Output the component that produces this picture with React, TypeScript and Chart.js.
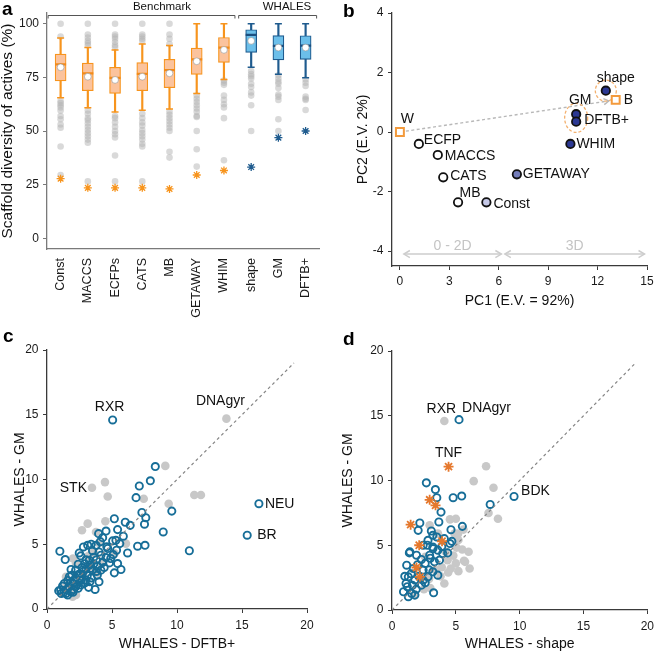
import React, { useEffect, useRef } from 'react';
import { Chart, registerables } from 'chart.js';

Chart.register(...registerables);

const FONT = "'Liberation Sans', Arial, Helvetica, sans-serif";
Chart.defaults.font.family = FONT;

// ---------------- Panel a : box plots ----------------
const categories = ['Const', 'MACCS', 'ECFPs', 'CATS', 'MB', 'GETAWAY', 'WHIM', 'shape', 'GM', 'DFTB+'];
const boxQ1 = [73.4, 68.8, 67.5, 68.8, 70.2, 76.4, 82.0, 86.6, 83.1, 83.4];
const boxQ3 = [85.8, 81.6, 79.7, 81.9, 83.4, 88.6, 93.6, 97.2, 94.5, 94.4];
const boxMedian = [81.1, 76.9, 74.8, 76.6, 78.4, 83.4, 88.9, 94.8, 89.7, 89.8];
const boxMean = [79.7, 75.3, 73.8, 75.3, 76.9, 82.5, 87.8, 92.0, 88.9, 88.9];
const whiskerLow = [65.5, 60.8, 58.9, 59.7, 60.3, 67.5, 74.0, 79.7, 76.4, 74.8];
const whiskerHigh = [93.3, 88.9, 87.8, 90.5, 89.8, 100, 100, 100, 100, 100];
const starValues = [27.8, 23.5, 23.5, 23.5, 23.0, 29.5, 31.6, 33.2, 46.9, 50.0];
const outliersConst = [100, 94, 64, 63, 62, 61, 59.5, 57, 55.5, 53, 51.5, 42.8, 29.5];
const outliersMACCS = [100, 95, 93.5, 92, 91, 90, 59.5, 58, 56, 55, 53.5, 52, 50.5, 49, 47.5, 46, 44.5, 26.5];
const outliersECFPs = [100, 95, 94, 93, 91.5, 90, 89, 57, 56, 54, 52, 50, 48.5, 47, 38.6, 26.5];
const outliersCATS = [100, 95, 94, 93, 92, 58, 56, 54, 52.5, 50.5, 49, 47.5, 46, 44, 42.8, 26.5];
const outliersMB = [100, 95, 93, 90.5, 59, 57.5, 56, 54.5, 53, 51.5, 50, 40.3, 37.6];
const outliersGETAWAY = [66.5, 65, 63.5, 62, 60.5, 59, 57, 56.5, 50, 41.5, 33.4];
const outliersWHIM = [73.5, 72.5, 71.5, 66.5, 64.5, 62.5, 61, 56, 36.4];
const outliersShape = [78, 76.5, 75.5, 74.5, 72, 70.5, 68, 66.5, 62, 50];
const outliersGM = [76, 74.5, 73, 72, 70, 67, 66, 64.5, 55.5, 50];
const outliersDFTB = [74, 72.5, 71, 66, 65, 64.5, 59.8];
const outliersByCategory = [
  outliersConst, outliersMACCS, outliersECFPs, outliersCATS, outliersMB,
  outliersGETAWAY, outliersWHIM, outliersShape, outliersGM, outliersDFTB,
];
const yTicksA = [0, 25, 50, 75, 100];
const benchmarkCount = 7; // first 7 categories are the benchmark group

// ---------------- Panel b : PCA ----------------
const pcaNames = ['ECFP', 'MACCS', 'CATS', 'MB', 'Const', 'GETAWAY', 'WHIM', 'GM', 'DFTB+', 'shape'];
const pc1 = [1.15, 2.3, 2.63, 3.53, 5.25, 7.1, 10.35, 10.7, 10.7, 12.5];
const pc2 = [-0.4, -0.77, -1.52, -2.36, -2.36, -1.42, -0.4, 0.6, 0.35, 1.39];
const centroidNames = ['W', 'B'];
const centroidPC1 = [0, 13.1];
const centroidPC2 = [0, 1.08];
const rangeLabels = ['0 - 2D', '3D'];
const rangeFrom = [0.24, 6.37];
const rangeTo = [6.16, 14.85];
const rangeY = -4.1;
const xTicksB = [0, 3, 6, 9, 12, 15];
const yTicksB = [-4, -2, 0, 2, 4];

// ---------------- Panel c ----------------
const cBlue: [number, number][] = [
  [5.05, 14.6], [16.3, 8.13], [15.4, 5.7],
  [8.33, 11.0], [7.95, 9.9], [7.1, 9.5], [6.85, 8.6], [9.6, 7.56], [7.3, 7.45], [7.6, 7.05], [7.5, 6.55],
  [8.94, 5.95], [10.95, 4.5], [7.54, 4.92], [6.97, 4.85], [5.18, 6.97], [6.02, 6.7], [5.43, 6.13], [6.4, 6.46],
  [5.87, 5.62], [5.05, 5.26], [5.3, 5.3], [5.6, 5.05], [6.2, 4.33], [5.35, 4.54], [4.54, 6.02], [3.97, 5.82],
  [4.28, 5.51], [3.77, 4.92], [3.5, 4.49], [3.13, 4.92], [2.8, 4.79], [2.48, 4.33], [0.99, 4.46], [1.4, 3.82],
  [4.15, 4.15], [4.67, 4.67], [4.54, 3.97], [4.8, 3.56], [5.43, 3.51], [5.69, 3.05], [5.18, 2.79], [4.15, 3.0],
  [3.87, 2.62], [4.0, 2.1], [3.7, 1.51], [3.2, 1.67], [3.0, 2.23], [2.36, 2.62], [1.85, 3.05], [1.72, 2.49],
  [1.33, 1.97], [1.05, 1.46], [1.46, 1.2], [1.85, 1.33], [1.59, 1.08], [2.2, 1.72], [2.6, 1.85], [2.7, 3.2],
  [3.25, 3.77], [3.6, 3.5], [3.36, 3.13], [2.9, 3.5], [2.4, 3.46], [2.1, 2.23], [1.2, 1.77], [0.9, 1.4],
  [2.0, 2.0], [2.2, 2.4], [2.5, 2.7], [2.8, 2.9], [3.0, 3.1], [3.3, 3.4], [3.5, 3.0], [3.8, 3.8], [4.0, 4.4],
  [4.3, 3.6], [2.3, 1.9], [1.7, 1.7], [1.5, 1.5], [1.9, 2.6], [2.6, 2.2], [3.1, 2.6], [3.4, 2.4], [2.9, 2.0],
  [1.3, 1.3], [1.1, 1.2], [2.05, 1.5], [2.7, 2.5], [3.9, 3.3], [4.4, 3.2], [4.9, 3.9], [3.6, 4.0], [3.0, 3.8],
  [2.2, 3.0], [1.6, 2.2], [4.1, 5.2], [4.6, 4.8], [5.1, 4.2], [3.4, 5.0], [2.6, 4.1], [2.0, 1.3], [2.4, 1.6],
  [1.8, 2.0], [3.3, 2.1], [3.8, 2.9],
];
const cGray: [number, number][] = [
  [13.8, 14.7], [3.46, 9.36], [9.1, 11.05], [4.46, 9.8], [4.67, 8.69], [7.44, 8.51], [9.36, 8.13], [11.33, 8.8],
  [11.84, 8.8], [3.13, 6.59], [2.69, 6.08], [4.49, 6.77], [3.77, 5.95], [6.07, 5.05], [2.23, 3.51], [1.46, 2.49],
  [2.23, 1.08], [1.97, 0.95], [3.3, 3.2], [2.8, 2.6], [1.8, 1.6], [4.2, 3.5], [5.2, 4.3], [3.6, 4.4], [2.5, 2.0],
  [1.5, 1.9], [3.9, 2.8], [4.0, 5.1], [2.0, 3.9], [3.2, 4.1],
];
const cLabelText = ['RXR', 'NEU', 'BR', 'DNAgyr', 'STK'];

// ---------------- Panel d ----------------
const dBlue: [number, number][] = [
  [5.25, 14.7], [9.56, 8.77], [2.69, 9.82], [3.4, 9.3], [3.51, 8.67], [4.79, 8.67], [5.46, 8.8], [7.69, 8.15],
  [3.84, 7.56], [3.67, 6.8], [2.18, 6.72], [2.05, 6.15], [5.51, 6.46], [4.62, 6.2], [3.08, 6.1], [3.2, 5.77],
  [3.51, 5.64], [4.1, 5.51], [4.54, 5.13], [4.69, 5.3], [2.82, 5.38], [2.44, 5.0], [1.36, 4.41], [3.2, 4.87],
  [3.59, 4.62], [3.97, 4.36], [4.36, 4.41], [1.92, 4.23], [2.3, 3.9], [2.95, 4.23], [3.33, 3.72], [3.72, 3.85],
  [1.15, 3.46], [1.67, 3.21], [2.44, 3.08], [3.2, 2.95], [3.59, 2.69], [1.28, 2.56], [1.79, 2.31], [2.82, 2.56],
  [2.31, 1.92], [1.1, 2.05], [0.9, 1.41], [1.54, 1.28], [3.26, 1.33], [1.28, 1.03], [1.79, 1.15], [2.44, 2.3],
  [1.4, 4.49], [2.77, 5.0], [3.21, 4.74], [1.5, 2.8], [2.0, 3.5], [2.6, 3.6], [1.2, 1.8], [2.1, 2.6], [1.6, 1.9],
  [2.9, 3.1], [3.0, 4.0], [1.0, 2.6], [1.9, 1.6], [2.6, 2.1], [3.9, 4.9],
];
const dStars: [number, number][] = [
  [4.43, 11.07], [2.95, 8.51], [3.41, 8.08], [1.46, 6.59], [2.13, 5.0], [3.92, 5.31], [1.92, 3.28], [2.18, 2.56],
];
const dGray: [number, number][] = [
  [4.1, 14.6], [7.37, 11.1], [6.4, 9.95], [7.95, 9.44], [7.56, 7.49], [8.3, 7.05], [5.0, 7.05], [5.6, 6.21],
  [5.5, 4.67], [4.35, 3.85], [5.64, 3.8], [6.08, 3.21], [4.1, 2.05], [5.0, 3.6], [4.6, 3.2], [2.95, 6.54],
  [3.6, 5.9], [4.8, 4.2], [5.2, 3.0], [3.8, 2.6], [4.4, 2.9], [2.6, 4.1], [3.4, 3.1], [2.9, 2.4], [3.0, 1.7],
  [2.5, 1.6], [1.8, 1.2], [5.2, 5.4], [4.9, 5.9], [6.0, 4.5], [3.9, 3.3], [4.2, 4.5], [4.54, 7.0], [5.18, 5.9],
  [5.05, 4.82], [5.72, 3.72],
];
const dLabelText = ['DNAgyr', 'BDK', 'RXR', 'TNF'];
const diagonal = [0, 19];
const ticks20 = [0, 5, 10, 15, 20];

// ---------------- styles ----------------
const ORANGE = '#f7941d';
const ORANGE_FILL = '#fbc39d';
const ORANGE_MED = '#f28a1a';
const BLUE_STROKE = '#1f5b8e';
const BLUE_FILL = '#6cbfea';
const BLUE_MED = '#1b4f80';
const RING = '#176e98';
const STAR_D = '#e5782d';
const GRAY_DOT = '#c8c8c8';
const AXIS = '#3a3a3a';
const AXIS_A = '#7a7a7a';

const toXY = (pts: [number, number][]) => pts.map(([x, y]) => ({ x, y }));
const fixW = (w: number) => (s: any) => { s.width = w; };
const fixH = (h: number) => (s: any) => { s.height = h; };
const setTicks = (vals: number[]) => (s: any) => { s.ticks = vals.map((v) => ({ value: v })); };

function letterPlugin(letter: string, x: number, y: number) {
  return {
    id: 'letter_' + letter,
    afterDraw(chart: any) {
      const ctx = chart.ctx;
      ctx.save();
      ctx.font = `bold 19px ${FONT}`;
      ctx.fillStyle = '#000';
      ctx.textBaseline = 'alphabetic';
      ctx.textAlign = 'left';
      ctx.fillText(letter, x, y);
      ctx.restore();
    },
  };
}

function chevron(ctx: any, x: number, y: number, ux: number, uy: number, size: number) {
  const px = -uy, py = ux;
  ctx.beginPath();
  ctx.moveTo(x - ux * size + px * size * 0.6, y - uy * size + py * size * 0.6);
  ctx.lineTo(x, y);
  ctx.lineTo(x - ux * size - px * size * 0.6, y - uy * size - py * size * 0.6);
  ctx.stroke();
}

const baseOptions = {
  responsive: false,
  animation: false,
  devicePixelRatio: 1,
  events: [],
  plugins: { legend: { display: false }, tooltip: { enabled: false } },
};

// ---------------- configs ----------------
function configA(): any {
  const isW = (i: number) => i >= benchmarkCount;
  const stroke = categories.map((_, i) => (isW(i) ? BLUE_STROKE : ORANGE));
  const fill = categories.map((_, i) => (isW(i) ? BLUE_FILL : ORANGE_FILL));
  const med = categories.map((_, i) => (isW(i) ? BLUE_MED : ORANGE_MED));
  const outlierData = categories.flatMap((c, i) => outliersByCategory[i].map((v) => ({ x: c, y: v })));
  const pointSet = (data: any, extra: any) => ({ type: 'line', showLine: false, data, ...extra });

  const brackets = {
    id: 'brackets',
    afterDraw(chart: any) {
      const { ctx, scales: { x } } = chart;
      ctx.save();
      ctx.strokeStyle = '#555';
      ctx.lineWidth = 1;
      const yb = 15.5;
      const groups = [
        { from: 0, to: benchmarkCount - 1, text: 'Benchmark', tx: 162 },
        { from: benchmarkCount, to: categories.length - 1, text: 'WHALES', tx: 287 },
      ];
      ctx.font = `11.5px ${FONT}`;
      ctx.fillStyle = '#111';
      ctx.textAlign = 'center';
      ctx.textBaseline = 'alphabetic';
      for (const g of groups) {
        const a = x.getPixelForValue(g.from) - 12.5;
        const b = x.getPixelForValue(g.to) + 11;
        ctx.beginPath();
        ctx.moveTo(a, yb + 3);
        ctx.lineTo(a, yb);
        ctx.lineTo(b, yb);
        ctx.lineTo(b, yb + 3);
        ctx.stroke();
        ctx.fillText(g.text, g.tx, 10);
      }
      ctx.restore();
    },
  };

  return {
    type: 'bar',
    data: {
      labels: categories,
      datasets: [
        pointSet(starValues, { pointStyle: 'star', pointRadius: 4, pointBorderWidth: 1.3, pointBorderColor: stroke, order: 0 }),
        pointSet(boxMean, { pointStyle: 'circle', pointRadius: 3.4, pointBackgroundColor: '#fff', pointBorderColor: 'rgba(140,140,140,0.7)', pointBorderWidth: 0.8, order: 1 }),
        pointSet(boxMedian, { pointStyle: 'line', pointRadius: 5.5, pointBorderWidth: 2.2, pointBorderColor: med, order: 2 }),
        pointSet(whiskerLow, { pointStyle: 'line', pointRadius: 3.5, pointBorderWidth: 1.5, pointBorderColor: stroke, order: 3 }),
        pointSet(whiskerHigh, { pointStyle: 'line', pointRadius: 3.5, pointBorderWidth: 1.5, pointBorderColor: stroke, order: 3 }),
        {
          type: 'bar', data: categories.map((_, i) => [boxQ1[i], boxQ3[i]]), backgroundColor: fill, borderColor: stroke,
          borderWidth: 1.2, borderSkipped: false, barThickness: 11, grouped: false, order: 4,
        },
        {
          type: 'bar', data: categories.map((_, i) => [whiskerLow[i], whiskerHigh[i]]), backgroundColor: stroke,
          borderWidth: 0, barThickness: 1.5, grouped: false, order: 5,
        },
        pointSet(outlierData, { pointStyle: 'circle', pointRadius: 3.3, pointBackgroundColor: 'rgba(180,180,180,0.5)', pointBorderWidth: 0, order: 6 }),
      ],
    },
    options: {
      ...baseOptions,
      layout: { padding: { left: 0, top: 13, right: 2, bottom: 0 } },
      scales: {
        x: {
          type: 'category', offset: true,
          grid: { display: false, drawTicks: false },
          border: { display: true, color: AXIS_A, width: 1.3 },
          ticks: { color: '#1a1a1a', font: { size: 12.5 }, minRotation: 90, maxRotation: 90, padding: 9, autoSkip: false },
          afterFit: fixH(76),
        },
        y: {
          type: 'linear', min: -5, max: 105,
          afterBuildTicks: setTicks(yTicksA),
          grid: { drawOnChartArea: false, drawTicks: true, tickLength: 4, color: AXIS_A },
          border: { display: true, color: AXIS_A, width: 1.3 },
          ticks: { color: '#1a1a1a', font: { size: 12 }, padding: 4 },
          title: { display: true, text: 'Scaffold diversity of actives (%)', color: '#111', font: { size: 15.5 }, padding: { top: -2, bottom: 0 } },
          afterFit: fixW(47),
        },
      },
    },
    plugins: [brackets, letterPlugin('a', 2, 15)],
  };
}

function configB(): any {
  const fills = ['#ffffff', '#ffffff', '#ffffff', '#ffffff', '#c6c9e8', '#747dba', '#2b3893', '#2b3893', '#2b3893', '#2b3893'];
  const labelStyle: Record<string, [number, number, string]> = {
    ECFP: [5, -4, 'left'], MACCS: [7, 1, 'left'], CATS: [7, -1, 'left'], MB: [12, -9, 'center'],
    Const: [7, 2, 'left'], GETAWAY: [6, 0, 'left'], WHIM: [6, 0, 'left'], GM: [4, -14, 'center'],
    'DFTB+': [8, -2, 'left'], shape: [10, -13, 'center'], W: [7.5, -13, 'center'], B: [8, 0, 'left'],
  };
  const decor = {
    id: 'bDecor',
    beforeDatasetsDraw(chart: any) {
      const { ctx, scales: { x, y } } = chart;
      ctx.save();
      // W -> B arrow
      const x0 = x.getPixelForValue(centroidPC1[0]), y0 = y.getPixelForValue(centroidPC2[0]);
      const x1 = x.getPixelForValue(centroidPC1[1]), y1 = y.getPixelForValue(centroidPC2[1]);
      const len = Math.hypot(x1 - x0, y1 - y0);
      const ux = (x1 - x0) / len, uy = (y1 - y0) / len;
      const ex = x1 - ux * 7, ey = y1 - uy * 7;
      ctx.strokeStyle = '#b8b8b8';
      ctx.lineWidth = 1.4;
      ctx.setLineDash([3, 2.5]);
      ctx.beginPath();
      ctx.moveTo(x0 + ux * 6, y0 + uy * 6);
      ctx.lineTo(ex, ey);
      ctx.stroke();
      ctx.setLineDash([]);
      chevron(ctx, ex, ey, ux, uy, 5);
      // dashed ellipses around WHALES groups
      ctx.strokeStyle = '#f3b06e';
      ctx.lineWidth = 1.3;
      ctx.setLineDash([3, 2]);
      const iS = pcaNames.indexOf('shape'), iG = pcaNames.indexOf('GM'), iD = pcaNames.indexOf('DFTB+');
      ctx.beginPath();
      ctx.ellipse(x.getPixelForValue(pc1[iS]), y.getPixelForValue(pc2[iS]), 10.5, 10.5, 0, 0, Math.PI * 2);
      ctx.stroke();
      ctx.beginPath();
      ctx.ellipse(x.getPixelForValue((pc1[iG] + pc1[iD]) / 2), y.getPixelForValue((pc2[iG] + pc2[iD]) / 2), 11.5, 14.5, 0, 0, Math.PI * 2);
      ctx.stroke();
      ctx.setLineDash([]);
      // range arrows
      ctx.strokeStyle = '#cdcdcd';
      ctx.fillStyle = '#c4c4c4';
      ctx.lineWidth = 1.5;
      ctx.font = `14px ${FONT}`;
      ctx.textAlign = 'center';
      ctx.textBaseline = 'middle';
      const ya = y.getPixelForValue(rangeY);
      rangeLabels.forEach((lab, i) => {
        const a = x.getPixelForValue(rangeFrom[i]), b = x.getPixelForValue(rangeTo[i]);
        ctx.beginPath();
        ctx.moveTo(a, ya);
        ctx.lineTo(b, ya);
        ctx.stroke();
        chevron(ctx, a, ya, -1, 0, 6);
        chevron(ctx, b, ya, 1, 0, 6);
        ctx.fillText(lab, (a + b) / 2, ya - 8);
      });
      ctx.restore();
    },
    afterDatasetsDraw(chart: any) {
      const { ctx, scales: { x, y } } = chart;
      ctx.save();
      ctx.font = `14px ${FONT}`;
      ctx.fillStyle = '#111';
      ctx.textBaseline = 'middle';
      const put = (name: string, vx: number, vy: number) => {
        const [dx, dy, al] = labelStyle[name];
        ctx.textAlign = al;
        ctx.fillText(name, x.getPixelForValue(vx) + dx, y.getPixelForValue(vy) + dy);
      };
      pcaNames.forEach((n, i) => put(n, pc1[i], pc2[i]));
      centroidNames.forEach((n, i) => put(n, centroidPC1[i], centroidPC2[i]));
      ctx.restore();
    },
  };
  return {
    type: 'scatter',
    data: {
      datasets: [
        {
          data: centroidPC1.map((v, i) => ({ x: v, y: centroidPC2[i] })), pointStyle: 'rect', pointRadius: 5.6,
          pointBackgroundColor: '#fff', pointBorderColor: '#f39a3c', pointBorderWidth: 2, order: 0,
        },
        {
          data: pc1.map((v, i) => ({ x: v, y: pc2[i] })), pointStyle: 'circle', pointRadius: 4.2,
          pointBackgroundColor: fills, pointBorderColor: '#111', pointBorderWidth: 1.8, order: 1,
        },
      ],
    },
    options: {
      ...baseOptions,
      layout: { padding: { left: 0, top: 13, right: 12, bottom: 0 } },
      scales: {
        x: {
          type: 'linear', min: -0.48, max: 15, afterBuildTicks: setTicks(xTicksB),
          grid: { drawOnChartArea: false, drawTicks: true, tickLength: 4, color: AXIS },
          border: { display: true, color: AXIS, width: 1.3 },
          ticks: { color: '#1a1a1a', font: { size: 12 }, padding: 4 },
          title: { display: true, text: 'PC1 (E.V. = 92%)', color: '#111', font: { size: 14 }, padding: { top: 0, bottom: 15.6 } },
          afterFit: fixH(59),
        },
        y: {
          type: 'linear', min: -4.5, max: 4, afterBuildTicks: setTicks(yTicksB),
          grid: { drawOnChartArea: false, drawTicks: true, tickLength: 4, color: AXIS },
          border: { display: true, color: AXIS, width: 1.3 },
          ticks: { color: '#1a1a1a', font: { size: 12 }, padding: 4.5 },
          title: { display: true, text: 'PC2 (E.V. 2%)', color: '#111', font: { size: 14 }, padding: { top: 24.6, bottom: 0 } },
          afterFit: fixW(62),
        },
      },
    },
    plugins: [decor, letterPlugin('b', 13, 17)],
  };
}

function configScatter(panel: 'c' | 'd'): any {
  const isC = panel === 'c';
  const blue = isC ? cBlue : dBlue;
  const gray = isC ? cGray : dGray;
  // label: [text, series, index, dx, dy, align]
  const labels: [string, [number, number][], number, number, number, string][] = isC
    ? [
      [cLabelText[0], cBlue, 0, -3, -13, 'center'],
      [cLabelText[1], cBlue, 1, 6, 0, 'left'],
      [cLabelText[2], cBlue, 2, 10, 0, 'left'],
      [cLabelText[3], cGray, 0, -6, -17, 'center'],
      [cLabelText[4], cGray, 1, -5, 0, 'right'],
    ]
    : [
      [dLabelText[0], dBlue, 0, 3, -11, 'left'],
      [dLabelText[1], dBlue, 1, 7, -5, 'left'],
      [dLabelText[2], dGray, 0, -3, -12, 'center'],
      [dLabelText[3], dStars, 0, 0, -14, 'center'],
    ];
  const labelPlugin = {
    id: 'labels_' + panel,
    afterDatasetsDraw(chart: any) {
      const { ctx, scales: { x, y } } = chart;
      ctx.save();
      ctx.font = `14px ${FONT}`;
      ctx.fillStyle = '#111';
      ctx.textBaseline = 'middle';
      for (const [t, s, i, dx, dy, al] of labels) {
        ctx.textAlign = al;
        ctx.fillText(t, x.getPixelForValue(s[i][0]) + dx, y.getPixelForValue(s[i][1]) + dy);
      }
      ctx.restore();
    },
  };
  const datasets: any[] = [
    {
      type: 'line', data: diagonal.map((v) => ({ x: v, y: v })), showLine: true, borderColor: '#858585',
      borderWidth: 1.2, borderDash: [3, 3], pointRadius: 0, order: 0,
    },
    {
      data: toXY(blue), pointStyle: 'circle', pointRadius: 3.6, pointBackgroundColor: 'rgba(0,0,0,0)',
      pointBorderColor: RING, pointBorderWidth: 1.9, order: 2,
    },
    {
      data: toXY(gray), pointStyle: 'circle', pointRadius: 4.3, pointBackgroundColor: GRAY_DOT,
      pointBorderWidth: 0, order: 3,
    },
  ];
  if (!isC) {
    datasets.push({
      data: toXY(dStars), pointStyle: 'star', pointRadius: 5, pointBorderColor: STAR_D, pointBorderWidth: 1.8, order: 1,
    });
  }
  const scaleCommon = () => ({
    type: 'linear', min: 0, max: 20,
    grid: { drawOnChartArea: false, drawTicks: true, tickLength: 4, color: AXIS },
    border: { display: true, color: AXIS, width: 1.3 },
  });
  return {
    type: 'scatter',
    data: { datasets },
    options: {
      ...baseOptions,
      layout: { padding: { left: 0, top: isC ? 25 : 26, right: isC ? 23 : 6, bottom: 0 } },
      scales: {
        x: {
          ...scaleCommon(), afterBuildTicks: setTicks(ticks20),
          ticks: { color: '#1a1a1a', font: { size: 12 }, padding: 5 },
          title: { display: true, text: isC ? 'WHALES - DFTB+' : 'WHALES - shape', color: '#111', font: { size: 14 }, padding: { top: 0, bottom: 0 } },
          afterFit: fixH(isC ? 44 : 43),
        },
        y: {
          ...scaleCommon(), afterBuildTicks: setTicks(ticks20),
          ticks: { color: '#1a1a1a', font: { size: 12 }, padding: 4.5 },
          title: { display: true, text: 'WHALES - GM', color: '#111', font: { size: 14 }, padding: { top: isC ? 11.6 : 9.6, bottom: 0 } },
          afterFit: fixW(isC ? 47 : 62),
        },
      },
    },
    plugins: [labelPlugin, isC ? letterPlugin('c', 3, 17) : letterPlugin('d', 13, 20)],
  };
}

function ChartPanel(props: { left: number; top: number; width: number; height: number; make: () => any }) {
  const ref = useRef<HTMLCanvasElement>(null);
  useEffect(() => {
    const chart = new Chart(ref.current as HTMLCanvasElement, props.make());
    return () => chart.destroy();
  }, []);
  return (
    <canvas
      ref={ref}
      width={props.width}
      height={props.height}
      style={{ position: 'absolute', left: props.left, top: props.top, width: props.width, height: props.height }}
    />
  );
}

export default function App() {
  return (
    <div style={{ position: 'absolute', left: 0, top: 0, width: 659, height: 653, background: '#fff' }}>
      <ChartPanel left={0} top={0} width={330} height={325} make={configA} />
      <ChartPanel left={330} top={0} width={329} height={325} make={configB} />
      <ChartPanel left={0} top={325} width={330} height={328} make={() => configScatter('c')} />
      <ChartPanel left={330} top={325} width={329} height={328} make={() => configScatter('d')} />
    </div>
  );
}
